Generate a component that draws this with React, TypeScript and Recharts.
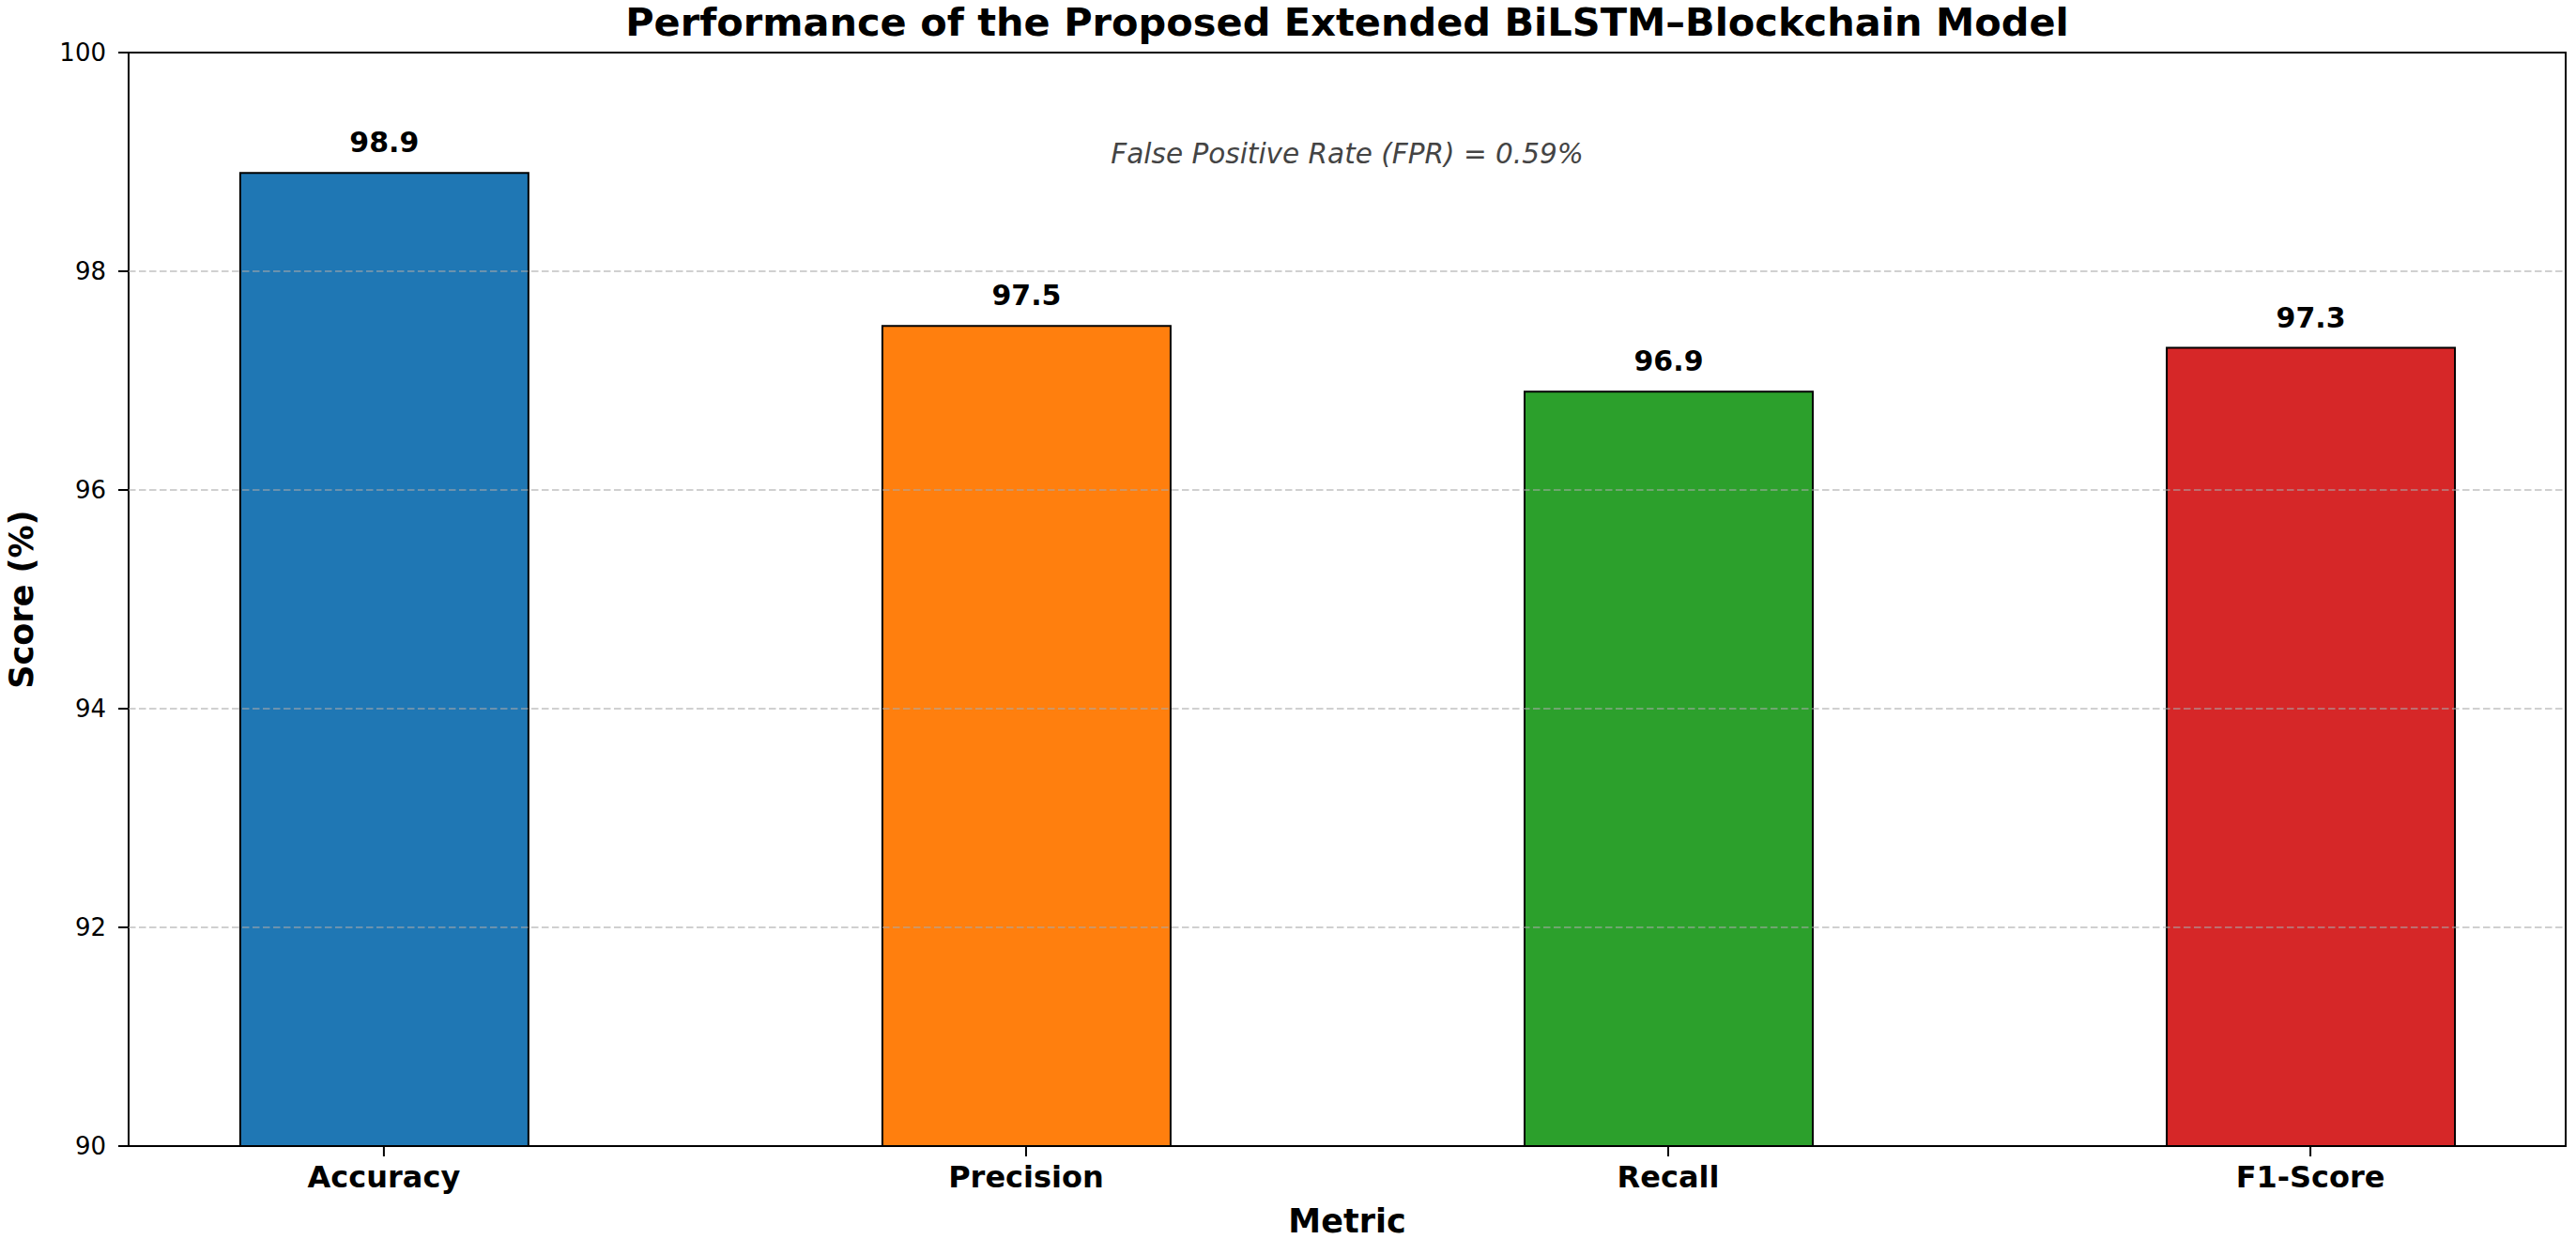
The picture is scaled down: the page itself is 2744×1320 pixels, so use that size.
import {
  Bar,
  BarChart,
  Cell,
  Label,
  LabelList,
  ReferenceArea,
  ReferenceLine,
  XAxis,
  YAxis,
} from "recharts";

const metrics = ["Accuracy", "Precision", "Recall", "F1-Score"];
const scores = [98.9, 97.5, 96.9, 97.3];
const barColors = ["#1f77b4", "#ff7f0e", "#2ca02c", "#d62728"];
const yTicks = [90, 92, 94, 96, 98, 100];
const xDomain = [-0.3975, 3.3975];

const chartTitle = "Performance of the Proposed Extended BiLSTM\u2013Blockchain Model";
const fprNote = "False Positive Rate (FPR) = 0.59%";

const font = "'DejaVu Sans', sans-serif";

const data = metrics.map((name, i) => ({ x: i, name, score: scores[i] }));

export default function App() {
  return (
    <div style={{ position: "absolute", left: 0, top: 0, background: "#fff" }}>
      <BarChart
        width={2744}
        height={1320}
        data={data}
        margin={{ top: 56, right: 11, bottom: 0, left: 0 }}
        style={{ fontFamily: font }}
      >
        <XAxis
          dataKey="x"
          type="number"
          domain={xDomain}
          ticks={[0, 1, 2, 3]}
          interval={0}
          allowDataOverflow
          height={99}
          axisLine={false}
          tickSize={11}
          tickMargin={10}
          tickLine={{ stroke: "#000", strokeWidth: 2 }}
          tickFormatter={(v: number) => metrics[v] ?? ""}
          tick={{ fill: "#000", fontSize: 32, fontWeight: "bold", fontFamily: font }}
        >
          <Label
            value="Metric"
            position="insideBottom"
            offset={7}
            style={{ fill: "#000", fontSize: 35, fontWeight: "bold", fontFamily: font }}
          />
        </XAxis>
        <YAxis
          type="number"
          domain={[90, 100]}
          ticks={yTicks}
          interval={0}
          allowDataOverflow
          width={137}
          axisLine={false}
          tickSize={11}
          tickMargin={13}
          tickLine={{ stroke: "#000", strokeWidth: 2 }}
          tick={{ fill: "#000", fontSize: 26, fontFamily: font }}
        >
          <Label
            value="Score (%)"
            angle={-90}
            position="insideLeft"
            offset={23}
            style={{
              fill: "#000",
              fontSize: 35,
              fontWeight: "bold",
              fontFamily: font,
              textAnchor: "middle",
            }}
          />
        </YAxis>
        <Bar
          dataKey="score"
          barSize={307}
          stroke="#000"
          strokeWidth={2}
          isAnimationActive={false}
        >
          {data.map((d, i) => (
            <Cell key={d.name} fill={barColors[i]} />
          ))}
          <LabelList
            dataKey="score"
            position="top"
            offset={22}
            formatter={(v: number) => v.toFixed(1)}
            style={{ fill: "#000", fontSize: 30, fontWeight: "bold", fontFamily: font }}
          />
        </Bar>
        {yTicks.slice(1, -1).map((v) => (
          <ReferenceLine
            key={v}
            y={v}
            stroke="#aaaaaa"
            strokeOpacity={0.55}
            strokeWidth={2}
            strokeDasharray="7.5 3.5"
          />
        ))}
        <ReferenceArea
          x1={xDomain[0]}
          x2={xDomain[1]}
          y1={90}
          y2={100}
          fill="none"
          fillOpacity={0}
          stroke="#000"
          strokeWidth={2}
        />
        <text
          x={1435}
          y={38}
          textAnchor="middle"
          style={{ fontSize: 41.5, fontWeight: "bold", fontFamily: font, fill: "#000" }}
        >
          {chartTitle}
        </text>
        <text
          x={1435}
          y={174}
          textAnchor="middle"
          style={{ fontSize: 29.5, fontStyle: "italic", fontFamily: font, fill: "#444" }}
        >
          {fprNote}
        </text>
      </BarChart>
    </div>
  );
}
